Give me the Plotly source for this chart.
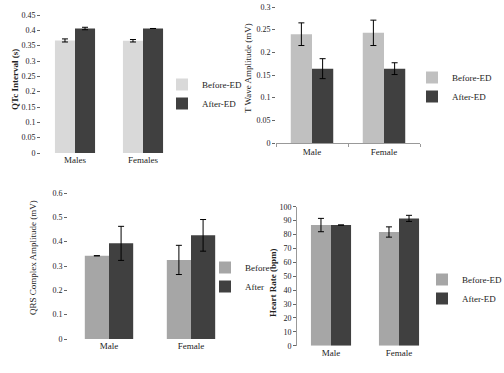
import plotly.graph_objects as go

# ---- data ----
cats1 = ["Males", "Females"]
qtc_before = [0.367, 0.366]
qtc_before_err = [0.005, 0.004]
qtc_after = [0.406, 0.406]
qtc_after_err = [0.004, 0.0]

cats2 = ["Male", "Female"]
tw_before = [0.240, 0.243]
tw_before_err = [0.025, 0.028]
tw_after = [0.164, 0.164]
tw_after_err = [0.022, 0.013]

cats3 = ["Male", "Female"]
qrs_before = [0.342, 0.325]
qrs_before_err = [0.0, 0.06]
qrs_after = [0.393, 0.426]
qrs_after_err = [0.07, 0.065]

cats4 = ["Male", "Female"]
hr_before = [86.8, 81.8]
hr_before_err = [4.8, 3.7]
hr_after = [86.8, 91.6]
hr_after_err = [0.0, 2.2]

W, H = 504, 373
FONT = "Liberation Serif"

def px(x):
    return x / W

def py(y):
    return (H - y) / H

fig = go.Figure()

def add_pair(idx, cats, b, be, a, ae, names, cb, ca):
    ax = "" if idx == 1 else str(idx)
    lg = "legend" if idx == 1 else "legend" + str(idx)
    for vals, err, nm, col in [(b, be, names[0], cb), (a, ae, names[1], ca)]:
        fig.add_trace(go.Bar(
            x=cats, y=vals, name=nm, marker=dict(color=col, line=dict(width=0)),
            error_y=dict(type="data", array=err, color="black", thickness=1, width=3),
            xaxis="x" + ax, yaxis="y" + ax, legend=lg,
        ))

add_pair(1, cats1, qtc_before, qtc_before_err, qtc_after, qtc_after_err,
         ["Before-ED", "After-ED"], "#d9d9d9", "#404040")
add_pair(2, cats2, tw_before, tw_before_err, tw_after, tw_after_err,
         ["Before-ED", "After-ED"], "#c0c0c0", "#404040")
add_pair(3, cats3, qrs_before, qrs_before_err, qrs_after, qrs_after_err,
         ["Before", "After"], "#a6a6a6", "#404040")
add_pair(4, cats4, hr_before, hr_before_err, hr_after, hr_after_err,
         ["Before-ED", "After-ED"], "#a6a6a6", "#404040")

tf = dict(family=FONT, size=8, color="#222")
xf = dict(family=FONT, size=9, color="#222")

def xax(x0, x1, anchor, line=False):
    return dict(domain=[px(x0), px(x1)], anchor=anchor, showgrid=False,
                showline=line, linecolor="#999", linewidth=1,
                ticks="outside" if line else "", tickson="boundaries", ticklen=3,
                tickcolor="#999", tickfont=xf, zeroline=False, fixedrange=True,
                automargin=False)

def yax(y0, y1, rng, dtick, anchor, line=False):
    return dict(domain=[py(y1), py(y0)], anchor=anchor, range=rng, dtick=dtick,
                showgrid=False, zeroline=False, showline=line, linecolor="#999",
                ticks="outside", ticklen=3, tickcolor="#666", tickfont=tf,
                fixedrange=True, automargin=False)

def leg(x, y):
    return dict(x=px(x), y=py(y), xanchor="left", yanchor="top",
                font=dict(family=FONT, size=9, color="#222"),
                bgcolor="rgba(0,0,0,0)", itemwidth=30, tracegroupgap=0)

fig.update_layout(
    width=W, height=H, margin=dict(l=0, r=0, t=0, b=0, autoexpand=False),
    paper_bgcolor="white", plot_bgcolor="white",
    font=dict(family=FONT, size=9, color="#222"),
    barmode="group",
    xaxis=xax(41, 177, "y"), yaxis=yax(15, 153, [0, 0.45], 0.05, "x"),
    xaxis2=xax(276, 420, "y2", line=True), yaxis2=yax(7, 143, [0, 0.3], 0.05, "x2"),
    xaxis3=xax(68, 232, "y3"), yaxis3=yax(193, 339, [0, 0.6], 0.1, "x3"),
    xaxis4=xax(297, 433, "y4"), yaxis4=yax(206.7, 345.7, [0, 100], 10, "x4", line=True),
    bargap=0.41,
    showlegend=True,
    legend=leg(162, 70),
    legend2=leg(412, 63),
    legend3=leg(205, 253),
    legend4=leg(422, 265),
)

titles = [
    ("QTc Interval (s)", 15, 80, True),
    ("T Wave Amplitude (mV)", 248, 68, False),
    ("QRS Complex Amplitude (mV)", 33, 258, False),
    ("Heart Rate (bpm)", 273, 283, True),
]
for t, x, y, bold in titles:
    fig.add_annotation(text=("<b>%s</b>" % t) if bold else t, x=px(x), y=py(y),
                       xref="paper", yref="paper", xanchor="center", yanchor="middle",
                       textangle=-90, showarrow=False,
                       font=dict(family=FONT, size=9, color="#222"))

fig.write_html("out.html", config={"displayModeBar": False},
               post_script="document.body.style.margin='0';document.body.style.overflow='hidden';")
